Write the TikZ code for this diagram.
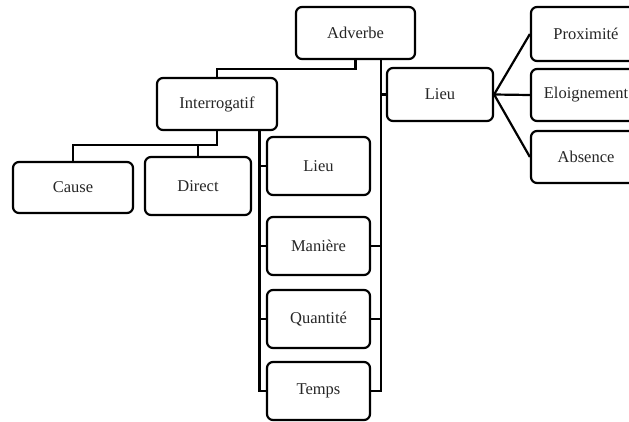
\documentclass[tikz,border=0pt]{standalone}
\usepackage{fontspec}
\setmainfont{Liberation Serif}
\begin{document}
\begin{tikzpicture}[x=1pt,y=-1pt,
  box/.style={draw=black, line width=2.2pt, rounded corners=6pt, fill=white,
    inner sep=0pt, font=\fontsize{16.5}{19}\selectfont, text=black!85},
  link/.style={draw=black, line width=2.2pt}]
\useasboundingbox (0,0) rectangle (629,421);
\clip (0,0) rectangle (629,421);

% root and first level
\node[box, minimum width=119pt, minimum height=52pt] (adv)    at (355.5,33)  {Adverbe};
\node[box, minimum width=120pt, minimum height=52pt] (interr) at (217,104)   {Interrogatif};
\node[box, minimum width=106pt, minimum height=53pt] (lieuR)  at (440,94.5)  {Lieu};

% subdivisions of the place adverb
\node[box, minimum width=110pt, minimum height=54pt] (prox) at (586,34)  {Proximité};
\node[box, minimum width=110pt, minimum height=52pt] (eloi) at (586,95)  {Eloignement};
\node[box, minimum width=110pt, minimum height=52pt] (abs)  at (586,157) {Absence};

% interrogative branches
\node[box, minimum width=120pt, minimum height=51pt] (cause)  at (73,187.5) {Cause};
\node[box, minimum width=106pt, minimum height=58pt] (direct) at (198,186)  {Direct};

% shared column
\node[box, minimum width=103pt, minimum height=58pt] (lieuI)   at (318.5,166) {Lieu};
\node[box, minimum width=103pt, minimum height=58pt] (maniere) at (318.5,246) {Manière};
\node[box, minimum width=103pt, minimum height=58pt] (quant)   at (318.5,319) {Quantité};
\node[box, minimum width=103pt, minimum height=58pt] (temps)   at (318.5,391) {Temps};

% Adverbe -> Interrogatif
\draw[link] (adv.south) -- ++(0,9) -| (interr.north);

% right trunk from Adverbe
\coordinate (rtrunk) at ([xshift=25.5pt]adv.south);
\draw[link] (rtrunk) |- (temps.east);
\draw[link] (lieuR.west) -- (lieuR.west -| rtrunk);
\draw[link] (maniere.east) -- (maniere.east -| rtrunk);
\draw[link] (quant.east) -- (quant.east -| rtrunk);

% left trunk from Interrogatif
\coordinate (ltrunk) at ([xshift=42.5pt]interr.south);
\draw[link] (ltrunk) |- (temps.west);
\draw[link] (lieuI.west) -- (lieuI.west -| ltrunk);
\draw[link] (maniere.west) -- (maniere.west -| ltrunk);
\draw[link] (quant.west) -- (quant.west -| ltrunk);

% Interrogatif -> Cause, Direct
\draw[link] (interr.south) -- ++(0,14) coordinate (jn) -| (direct.north);
\draw[link] (jn) -| (cause.north);

% Lieu -> its subdivisions
\draw[link] (lieuR.east) -- (prox.west);
\draw[link] (lieuR.east) -- (eloi.west);
\draw[link] (lieuR.east) -- (abs.west);
\end{tikzpicture}
\end{document}
